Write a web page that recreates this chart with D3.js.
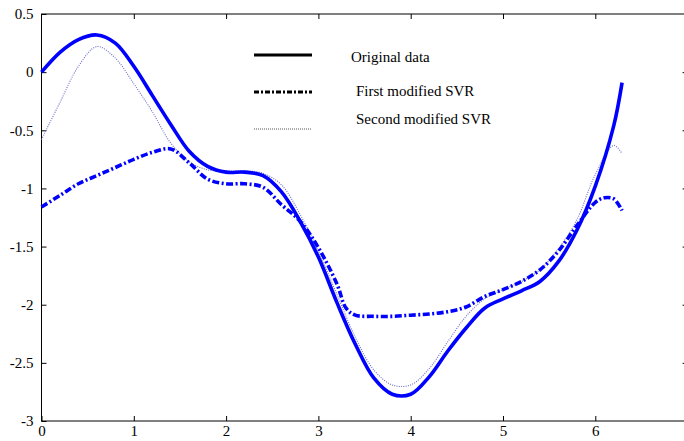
<!DOCTYPE html>
<meta charset="utf-8">
<script src="https://d3js.org/d3.v7.min.js"></script>
<style>
  body { margin: 0; background: #fff; }
</style>
<div id="chart"></div>
<script>

// data
var xs = [0, 0.2, 0.4, 0.6, 0.8, 1.0, 1.2, 1.4, 1.6, 1.8, 2.0, 2.2, 2.4, 2.6, 2.8, 3.0, 3.2, 3.4, 3.6, 3.8, 4.0, 4.2, 4.4, 4.6, 4.8, 5.0, 5.2, 5.4, 5.6, 5.8, 6.0, 6.2, 6.3];
var original = [0, 0.17, 0.28, 0.32, 0.25, 0.05, -0.2, -0.45, -0.68, -0.81, -0.86, -0.86, -0.89, -1.03, -1.28, -1.59, -1.98, -2.34, -2.63, -2.77, -2.77, -2.62, -2.4, -2.2, -2.03, -1.95, -1.88, -1.8, -1.63, -1.36, -0.98, -0.46, -0.09];
var firstSVRx = [0, 0.2, 0.4, 0.6, 0.8, 1.0, 1.2, 1.4, 1.6, 1.8, 2.0, 2.2, 2.4, 2.6, 2.8, 3.0, 3.2, 3.3, 3.4, 3.6, 3.8, 4.0, 4.2, 4.4, 4.6, 4.8, 5.0, 5.2, 5.4, 5.6, 5.8, 6.0, 6.1, 6.2, 6.3];
var firstSVR = [-1.16, -1.06, -0.96, -0.89, -0.82, -0.75, -0.69, -0.66, -0.78, -0.92, -0.96, -0.96, -0.99, -1.14, -1.28, -1.51, -1.82, -2.03, -2.09, -2.1, -2.1, -2.09, -2.08, -2.06, -2.02, -1.93, -1.87, -1.8, -1.7, -1.54, -1.32, -1.12, -1.08, -1.09, -1.19];
var secondSVR = [-0.58, -0.26, 0.05, 0.22, 0.12, -0.1, -0.34, -0.61, -0.77, -0.84, -0.85, -0.85, -0.87, -0.97, -1.22, -1.54, -1.91, -2.28, -2.56, -2.69, -2.69, -2.55, -2.32, -2.1, -1.95, -1.87, -1.8, -1.7, -1.52, -1.27, -0.88, -0.63, -0.7];
var xTicks = [0, 1, 2, 3, 4, 5, 6];
var yTicks = [0.5, 0, -0.5, -1, -1.5, -2, -2.5, -3];
var legendNames = ["Original data", "First modified SVR", "Second modified SVR"];

var width = 684, height = 441;
var serif = "Liberation Serif";

var svg = d3.select("#chart")
  .append("svg")
    .attr("width", width)
    .attr("height", height);

var x = d3.scaleLinear().domain([0, 7]).range([41.5, 687.6]);
var y = d3.scaleLinear().domain([-3, 0.5]).range([421, 14]);

// frame
svg.append("rect")
  .attr("x", x(0)).attr("y", y(0.5))
  .attr("width", x(7) - x(0)).attr("height", y(-3) - y(0.5))
  .attr("fill", "none").attr("stroke", "#000").attr("stroke-width", 1);

function styleAxis(g) {
  g.attr("font-family", serif).attr("font-size", 15);
  g.select(".domain").remove();
  g.selectAll("line").attr("stroke", "#000");
  g.selectAll("text").attr("fill", "#000");
}

svg.append("g")
  .attr("transform", "translate(0," + y(-3) + ")")
  .call(d3.axisBottom(x).tickValues(xTicks).tickSize(-5).tickPadding(4).tickFormat(d3.format("d")))
  .call(styleAxis);

svg.append("g")
  .attr("transform", "translate(0," + y(0.5) + ")")
  .call(d3.axisTop(x).tickValues(xTicks.slice(1)).tickSize(-5).tickFormat(""))
  .call(styleAxis);

svg.append("g")
  .attr("transform", "translate(" + x(0) + ",0)")
  .call(d3.axisLeft(y).tickValues(yTicks).tickSize(-5).tickPadding(8).tickFormat(function(d) { return String(d); }))
  .call(styleAxis);

svg.append("g")
  .attr("transform", "translate(" + x(7) + ",0)")
  .call(d3.axisRight(y).tickValues(yTicks.slice(1, -1)).tickSize(-5).tickFormat(""))
  .call(styleAxis);

var line = d3.line()
  .x(function(d) { return x(d[0]); })
  .y(function(d) { return y(d[1]); })
  .curve(d3.curveCatmullRom);

var origPts = xs.map(function(v, i) { return [Math.min(v, 6.29), original[i]]; });
var firstPts = firstSVRx.map(function(v, i) { return [Math.min(v, 6.29), firstSVR[i]]; });
var secondPts = xs.map(function(v, i) { return [Math.min(v, 6.29), secondSVR[i]]; });

svg.append("path").datum(secondPts)
  .attr("d", line)
  .attr("fill", "none")
  .attr("stroke", "#6b6bc8")
  .attr("stroke-width", 1.1)
  .attr("stroke-dasharray", "1,1.3");

svg.append("path").datum(firstPts)
  .attr("d", line)
  .attr("fill", "none")
  .attr("stroke", "#0000ff")
  .attr("stroke-width", 3.6)
  .attr("stroke-dasharray", "7,2.5,2,2.5");

svg.append("path").datum(origPts)
  .attr("d", line)
  .attr("fill", "none")
  .attr("stroke", "#0000ff")
  .attr("stroke-width", 3.6);

// legend
var legend = [
  {name: legendNames[0], ly: 55, ty: 57, tx: 351, dash: null, w: 3.2, c: "#000"},
  {name: legendNames[1], ly: 92, ty: 91, tx: 356, dash: "5,2,2,2", w: 3.2, c: "#000"},
  {name: legendNames[2], ly: 129, ty: 119, tx: 356, dash: "1,1", w: 1, c: "#555"}
];

legend.forEach(function(d) {
  svg.append("line")
    .attr("x1", 254).attr("x2", 312)
    .attr("y1", d.ly).attr("y2", d.ly)
    .attr("stroke", d.c)
    .attr("stroke-width", d.w)
    .attr("stroke-dasharray", d.dash);
  svg.append("text")
    .attr("x", d.tx).attr("y", d.ty)
    .attr("dy", "0.35em")
    .attr("font-family", serif)
    .attr("font-size", 15)
    .attr("fill", "#000")
    .text(d.name);
});

</script>
